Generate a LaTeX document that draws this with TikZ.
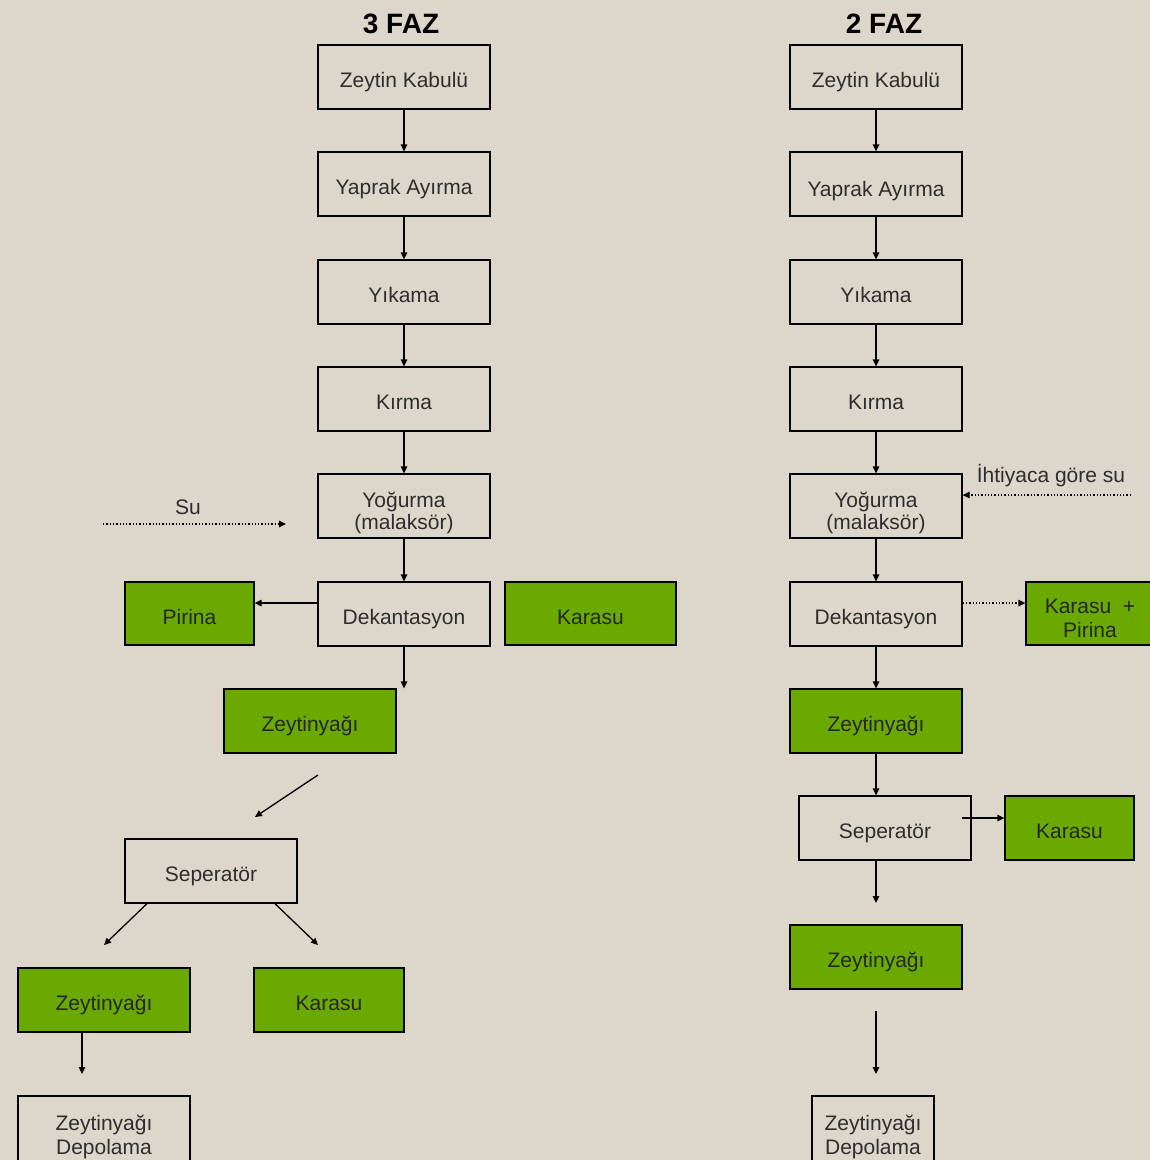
\documentclass[tikz,border=0pt]{standalone}
\usepackage{fontspec}
\setmainfont{Liberation Sans}
\usetikzlibrary{arrows.meta}
\definecolor{bg}{RGB}{220,215,202}
\definecolor{grn}{RGB}{106,170,0}
\definecolor{txt}{RGB}{45,45,45}
\newcommand{\firstline}{\rule{0pt}{29pt}}
\tikzset{
  box/.style={draw=black, line width=1.3pt, minimum width=172pt, minimum height=64pt,
    inner sep=0pt, align=center, text=txt, font=\fontsize{21}{22}\selectfont,
    execute at begin node={\rule{0pt}{26pt}},
    execute at end node={\rule[-5pt]{0pt}{5pt}}},
  gbox/.style={box, fill=grn, text=black!85},
  arr/.style={line width=1.3pt, -{Triangle[length=7pt,width=6.5pt]}},
  darr/.style={line width=1.3pt, dotted, -{Triangle[length=7pt,width=6.5pt]}},
  ttl/.style={font=\bfseries\fontsize{28}{30}\selectfont, text=black},
  lbl/.style={font=\fontsize{21}{22}\selectfont, text=txt, inner sep=0pt}
}
\begin{document}
\begin{tikzpicture}[x=1pt,y=-1pt]
\clip (0,0) rectangle (1150,1160);
\fill[bg] (0,0) rectangle (1150,1160);
\useasboundingbox (0,0) rectangle (1150,1160);

% titles
\node[ttl] (t3) at (401,24) {3 FAZ};
\node[ttl] (t2) at (884,24) {2 FAZ};

% ---------- 3 FAZ ----------
\node[box] (z1)  at (404,77)  {Zeytin Kabulü};
\node[box] (y1)  at (404,184) {Yaprak Ayırma};
\node[box] (k1)  at (404,292) {Yıkama};
\node[box] (kr1) at (404,399) {Kırma};
\node[box] (yo1) at (404,506) {\firstline Yoğurma\\(malaksör)};
\node[box] (d1)  at (404,614) {Dekantasyon};
\node[gbox, minimum width=129pt, minimum height=63pt] (p1) at (189.5,613.5) {Pirina};
\node[gbox, minimum width=171pt, minimum height=63pt] (ka1) at (590.5,613.5) {Karasu};
\node[gbox] (zy1) at (310,721) {Zeytinyağı};
\node[box] (sep1) at (211,871) {Seperatör};
\node[gbox] (zy1b) at (104,1000) {Zeytinyağı};
\node[gbox, minimum width=150pt] (kb1) at (329,1000) {Karasu};
\node[box, minimum height=68pt] (dep1) at (104,1130) {\firstline Zeytinyağı\\[2pt]Depolama};

\node[lbl] (su) at (188,507) {Su};
\coordinate (su1) at (103,524);
\coordinate (su2) at (286,524);
\draw[darr] (su1) -- (su2);

\draw[arr] (z1) -- (y1);
\draw[arr] (y1) -- (k1);
\draw[arr] (k1) -- (kr1);
\draw[arr] (kr1) -- (yo1);
\draw[arr] (yo1) -- (d1);
\draw[arr] (d1.west |- 0,603) -- (p1.east |- 0,603);
\draw[arr] (d1.south) -- (d1.south |- zy1.north);
\coordinate (a1) at (318,775);
\coordinate (a2) at (255,817);
\draw[arr] (a1) -- (a2);
\coordinate (b1) at (104,945);
\coordinate (b2) at (318,945);
\draw[arr] (sep1.south west -| 147,0) -- (b1);
\draw[arr] (sep1.south east -| 275,0) -- (b2);
\coordinate (c1) at (82,1074);
\draw[arr] (zy1b.south -| 82,0) -- (c1);

% ---------- 2 FAZ ----------
\node[box] (z2)  at (876,77)  {Zeytin Kabulü};
\node[box, execute at begin node={\rule{0pt}{29pt}}] (y2)  at (876,184) {Yaprak Ayırma};
\node[box] (k2)  at (876,292) {Yıkama};
\node[box] (kr2) at (876,399) {Kırma};
\node[box] (yo2) at (876,506) {\firstline Yoğurma\\(malaksör)};
\node[box] (d2)  at (876,614) {Dekantasyon};
\node[gbox, minimum width=128pt, minimum height=63pt] (kp2) at (1090,613.5) {\firstline Karasu \;+\\[2pt]Pirina};
\node[gbox] (zy2) at (876,721) {Zeytinyağı};
\node[box] (sep2) at (885,828) {Seperatör};
\node[gbox, minimum width=129pt] (ka2) at (1069.5,828) {Karasu};
\node[gbox] (zy2b) at (876,957) {Zeytinyağı};
\node[box, minimum width=122pt, minimum height=68pt] (dep2) at (873,1130) {\firstline Zeytinyağı\\[2pt]Depolama};

\node[lbl] (ih) at (1051,476) {İhtiyaca göre su};
\coordinate (ih1) at (1131,495);
\draw[darr] (ih1) -- (yo2.east |- ih1);

\draw[arr] (z2) -- (y2);
\draw[arr] (y2) -- (k2);
\draw[arr] (k2) -- (kr2);
\draw[arr] (kr2) -- (yo2);
\draw[arr] (yo2) -- (d2);
\draw[darr] (d2.east |- 0,603) -- (kp2.west |- 0,603);
\draw[arr] (d2) -- (zy2);
\draw[arr] (zy2.south) -- (zy2.south |- sep2.north);
\coordinate (g1) at (962,818);
\draw[arr] (g1) -- (ka2.west |- g1);
\coordinate (e1) at (876,903);
\draw[arr] (sep2.south -| 876,0) -- (e1);
\coordinate (f1) at (876,1011);
\coordinate (f2) at (876,1074);
\draw[arr] (f1) -- (f2);
\end{tikzpicture}
\end{document}
